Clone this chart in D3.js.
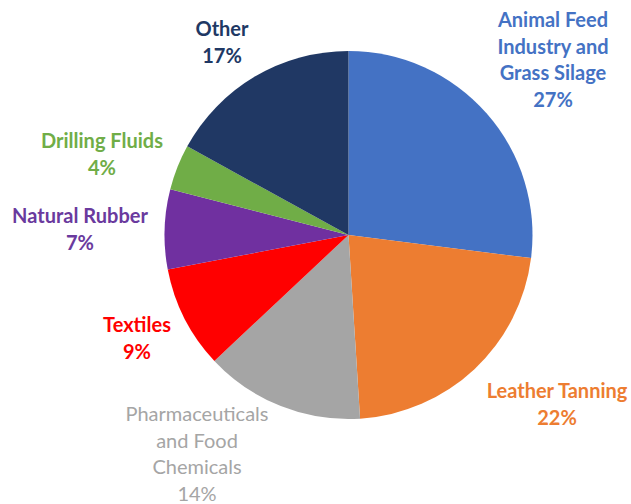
<!DOCTYPE html>
<html>
<head>
<meta charset="utf-8">
<script src="https://cdn.jsdelivr.net/npm/d3@7"></script>
<style>
  html, body { margin: 0; padding: 0; background: #fff; }
  svg { display: block; }
  text { font-family: Lato, "Open Sans", sans-serif; }
</style>
</head>
<body>
<svg id="chart" width="631" height="504"></svg>
<script>
// Uses of the product, share of total (%)
const categories = [
  "Animal Feed Industry and Grass Silage",
  "Leather Tanning",
  "Pharmaceuticals and Food Chemicals",
  "Textiles",
  "Natural Rubber",
  "Drilling Fluids",
  "Other"
];
const shares = [27, 22, 14, 9, 7, 4, 17];
const colors = ["#4472C4", "#ED7D31", "#A5A5A5", "#FF0000", "#7030A0", "#70AD47", "#203864"];
const labelColors = ["#4472C4", "#ED7D31", "#A5A5A5", "#FF0000", "#6A3A9E", "#70AD47", "#203864"];
// Label text broken into lines, last line is the percentage
const labelLines = [
  ["Animal Feed", "Industry and", "Grass Silage"],
  ["Leather Tanning"],
  ["Pharmaceuticals", "and Food", "Chemicals"],
  ["Textiles"],
  ["Natural Rubber"],
  ["Drilling Fluids"],
  ["Other"]
];
const labelBold = [true, true, false, true, true, true, true];
// Label anchor points (centre x, first baseline y)
const labelAnchors = [
  [553, 27], [557, 398], [197, 421], [137, 332], [80, 223], [102, 148], [222, 36]
];

const data = categories.map((c, i) => ({ name: c, value: shares[i], i }));

const svg = d3.select("#chart");
const cx = 348.5, cy = 235, r = 184;

const pie = d3.pie().value(d => d.value).sort(null);
const arc = d3.arc().innerRadius(0).outerRadius(r);

const g = svg.append("g").attr("transform", `translate(${cx},${cy})`);
g.selectAll("path")
  .data(pie(data))
  .join("path")
  .attr("d", arc)
  .attr("fill", d => colors[d.data.i]);

const lineH = 26.5;
const labels = svg.selectAll("text.lbl")
  .data(data)
  .join("text")
  .attr("class", "lbl")
  .attr("text-anchor", "middle")
  .attr("font-size", 20)
  .attr("font-weight", d => labelBold[d.i] ? 700 : 400)
  .attr("fill", d => labelColors[d.i]);

labels.each(function(d) {
  const t = d3.select(this);
  const [x, y] = labelAnchors[d.i];
  const lines = labelLines[d.i].concat([d.value + "%"]);
  lines.forEach((ln, k) => {
    t.append("tspan").attr("x", x).attr("y", y + k * lineH).text(ln);
  });
});
</script>
</body>
</html>
